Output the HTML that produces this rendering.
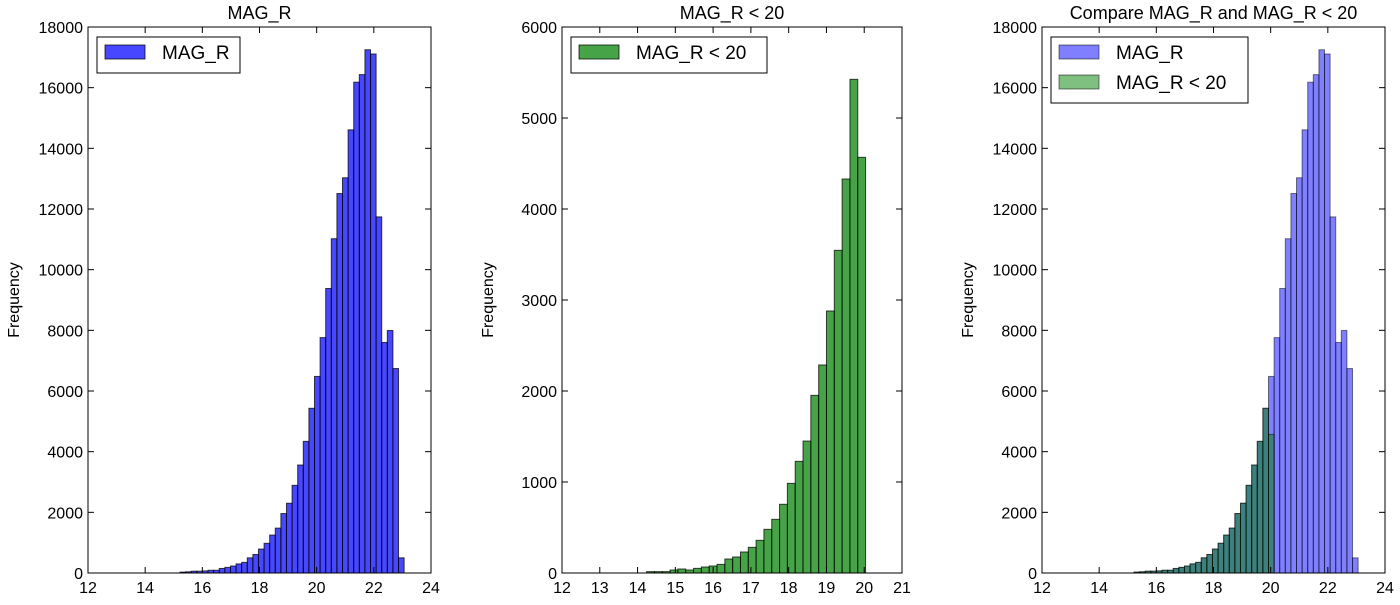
<!DOCTYPE html>
<html><head><meta charset="utf-8"><style>
body{margin:0;background:#fff;width:1400px;height:600px;overflow:hidden}
svg{font-family:"Liberation Sans","DejaVu Sans",sans-serif}
</style></head><body>
<svg id="c" width="1400" height="600" xmlns="http://www.w3.org/2000/svg"></svg>
<script>
// MAG_R histogram: 50 bins from 13.26, width 0.196
const magStart = 13.26;
const magWidth = 0.196;
const magCounts = [0,0,0,0,0,0,0,0,0,0,30,40,60,60,70,90,90,150,185,230,300,350,500,610,790,980,1250,1480,1960,2300,2890,3560,4340,5430,6480,7760,9380,11020,12510,13030,14610,16180,16430,17250,17110,11740,7600,7995,6740,500];
// MAG_R < 20 histogram: bins from 14.24, width 0.207
const brightStart = 14.24;
const brightWidth = 0.207;
const brightCounts = [15,15,15,33,44,33,51,66,77,95,154,176,231,282,359,480,590,755,985,1227,1450,1952,2286,2879,3546,4330,5425,4568];
// MAG_R < 20 as drawn on MAG_R bins in the comparison panel
const compareBrightCounts = [0,0,0,0,0,0,0,0,0,0,30,40,60,60,70,90,90,150,185,230,300,350,500,610,790,980,1250,1480,1960,2300,2890,3560,4340,5430,4568];
const xTicks1 = [12,14,16,18,20,22,24];
const yTicks1 = [0,2000,4000,6000,8000,10000,12000,14000,16000,18000];
const xTicks2 = [12,13,14,15,16,17,18,19,20,21];
const yTicks2 = [0,1000,2000,3000,4000,5000,6000];

const svg = document.getElementById('c');
const NS = 'http://www.w3.org/2000/svg';
function mk(tag, attrs, parent){
  const e = document.createElementNS(NS, tag);
  for (const k in attrs) e.setAttribute(k, attrs[k]);
  (parent||svg).appendChild(e);
  return e;
}
function panel(p){
  const g = mk('g', {});
  
  
  const sx = v => p.l + (v - p.x0) / (p.x1 - p.x0) * (p.r - p.l);
  const sy = v => p.b - (v - p.y0) / (p.y1 - p.y0) * (p.b - p.t);
  p.series.forEach(s => {
    s.counts.forEach((c, i) => {
      if (c <= 0) return;
      const a = s.start + i * s.width;
      const r = mk('rect', {x: sx(a), y: sy(c), width: sx(a + s.width) - sx(a), height: sy(0) - sy(c), fill: s.fill, 'fill-opacity': s.op, stroke: '#000', 'stroke-opacity': s.op, 'stroke-width': 1}, g);
      
      
    });
  });
  mk('rect', {x: p.l, y: p.t, width: p.r - p.l, height: p.b - p.t, fill: 'none', stroke: '#000', 'stroke-width': 1}, g);
  p.xt.forEach(v => {
    const x = sx(v);
    mk('line', {x1: x, x2: x, y1: p.b, y2: p.b - 6, stroke: '#000'}, g);
    mk('line', {x1: x, x2: x, y1: p.t, y2: p.t + 6, stroke: '#000'}, g);
    const t = mk('text', {x: x, y: p.b + 20, 'text-anchor': 'middle', 'font-size': 16}, g);
    t.textContent = v;
    
    
  });
  p.yt.forEach(v => {
    const y = sy(v);
    mk('line', {x1: p.l, x2: p.l + 6, y1: y, y2: y, stroke: '#000'}, g);
    mk('line', {x1: p.r, x2: p.r - 6, y1: y, y2: y, stroke: '#000'}, g);
    const t = mk('text', {x: p.l - 5, y: y + 6, 'text-anchor': 'end', 'font-size': 16}, g);
    t.textContent = v;
    
    
  });
  const tt = mk('text', {x: (p.l + p.r) / 2, y: p.t - 8, 'text-anchor': 'middle', 'font-size': 18}, g);
  tt.textContent = p.title;
  
  
  const yx = p.l - 69;
  const yl = mk('text', {x: yx, y: (p.t + p.b) / 2, 'text-anchor': 'middle', 'font-size': 16, transform: 'rotate(-90 ' + yx + ' ' + (p.t + p.b) / 2 + ')'}, g);
  yl.textContent = 'Frequency';
  
  
  const lg = mk('g', {}, g);
  
  
  mk('rect', {x: p.l + 9, y: p.t + 10, width: p.lw, height: 6 + 30 * p.series.length, fill: '#fff', stroke: '#000'}, lg);
  p.series.forEach((s, i) => {
    const y = p.t + 18 + 30 * i;
    mk('rect', {x: p.l + 17, y: y, width: 40, height: 14, fill: s.fill, 'fill-opacity': s.op, stroke: '#000', 'stroke-opacity': s.op}, lg);
    const t = mk('text', {x: p.l + 74, y: y + 14, 'font-size': 19}, lg);
    t.textContent = s.label;
    
    
  });
}
const magS = (op) => ({key: 'mag-r', label: 'MAG_R', start: magStart, width: magWidth, counts: magCounts, fill: '#0000ff', op: op});
panel({name: 'panel-mag-r', l: 88, r: 431, t: 27, b: 573, x0: 12, x1: 24, y0: 0, y1: 18000, xt: xTicks1, yt: yTicks1, title: 'MAG_R', lw: 143, series: [magS(0.72)]});
panel({name: 'panel-mag-r-lt-20', l: 562, r: 902, t: 27, b: 573, x0: 12, x1: 21, y0: 0, y1: 6000, xt: xTicks2, yt: yTicks2, title: 'MAG_R < 20', lw: 196,
  series: [{key: 'mag-r-lt-20', label: 'MAG_R < 20', start: brightStart, width: brightWidth, counts: brightCounts, fill: '#008000', op: 0.72}]});
panel({name: 'panel-compare', l: 1042, r: 1385, t: 27, b: 573, x0: 12, x1: 24, y0: 0, y1: 18000, xt: xTicks1, yt: yTicks1, title: 'Compare MAG_R and MAG_R < 20', lw: 197,
  series: [magS(0.5), {key: 'mag-r-lt-20', label: 'MAG_R < 20', start: magStart, width: magWidth, counts: compareBrightCounts, fill: '#008000', op: 0.5}]});
</script>
</body></html>
